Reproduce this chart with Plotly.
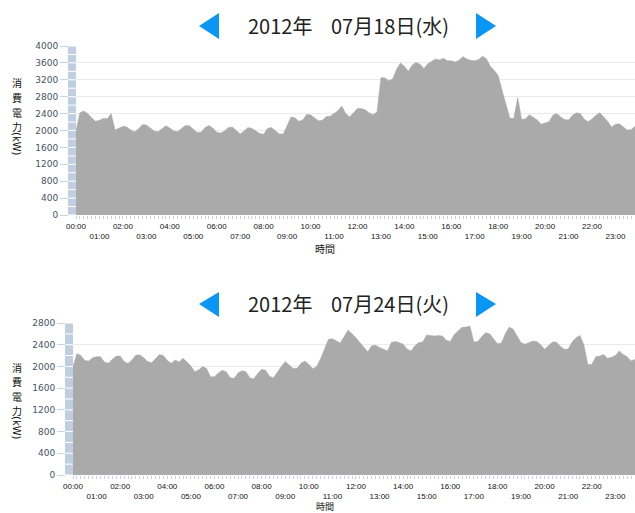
import pandas as pd
import plotly.graph_objects as go

W, H = 635, 513

# ---------------- data ----------------
times_0718 = pd.date_range("2012-07-18 00:00", periods=144, freq="10min")
times_0724 = pd.date_range("2012-07-24 00:00", periods=144, freq="10min")

kw_0718 = [
    2000, 2420, 2460, 2400, 2300, 2220,
    2240, 2290, 2280, 2400, 2010, 2050,
    2100, 2080, 2010, 1970, 2040, 2140,
    2130, 2060, 1990, 1970, 2050, 2115,
    2060, 1990, 1975, 2050, 2120, 2110,
    2020, 1950, 1960, 2070, 2120, 2060,
    1960, 1940, 1990, 2070, 2080, 1990,
    1920, 1990, 2070, 2050, 1980, 1930,
    1910, 2050, 2070, 2000, 1920, 1915,
    2100, 2320, 2300, 2220, 2250, 2380,
    2370, 2290, 2230, 2240, 2330, 2340,
    2400, 2470, 2580, 2400, 2320, 2430,
    2520, 2520, 2490, 2420, 2370, 2440,
    3250, 3250, 3180, 3220, 3450, 3600,
    3520, 3400, 3550, 3610, 3570, 3470,
    3580, 3640, 3690, 3670, 3710, 3650,
    3650, 3620, 3660, 3750, 3690, 3660,
    3650, 3680, 3760, 3700, 3520, 3420,
    3300, 2950, 2600, 2290, 2290, 2780,
    2260, 2280, 2370, 2300, 2250, 2150,
    2180, 2210, 2360, 2400, 2320, 2260,
    2250, 2360, 2420, 2400, 2270, 2210,
    2270, 2360, 2420, 2320, 2220, 2080,
    2150, 2160, 2080, 2010, 2020, 2100,
]

kw_0724 = [
    2000, 2240, 2200, 2110, 2100, 2160,
    2180, 2180, 2080, 2060, 2130, 2190,
    2190, 2090, 2055, 2120, 2210, 2210,
    2160, 2090, 2070, 2150, 2220, 2200,
    2110, 2060, 2120, 2080, 2150, 2080,
    2010, 1900, 1940, 2000, 1960, 1810,
    1810, 1880, 1930, 1900, 1790, 1780,
    1880, 1920, 1900, 1790, 1770, 1870,
    1950, 1930, 1820, 1790, 1900, 2000,
    2090, 2020, 1960, 1960, 2060, 2100,
    2040, 1955, 2000, 2140, 2330, 2500,
    2510, 2470, 2430, 2550, 2670, 2600,
    2530, 2440, 2350, 2270, 2380, 2390,
    2350, 2310, 2285, 2440, 2460, 2440,
    2410, 2320, 2285, 2380, 2440, 2450,
    2580, 2570, 2560, 2570, 2560, 2480,
    2460, 2590, 2660, 2720, 2725, 2745,
    2450, 2460, 2550, 2620, 2600, 2500,
    2420, 2430, 2600, 2725, 2685, 2560,
    2440, 2410, 2440, 2470, 2460, 2400,
    2315, 2380, 2450, 2450, 2370, 2315,
    2320, 2450, 2530, 2570, 2400, 2035,
    2035, 2180, 2190, 2220, 2150, 2170,
    2200, 2285, 2220, 2180, 2100, 2130,
]

hour_labels = ["00:00", "01:00", "02:00", "03:00", "04:00", "05:00",
               "06:00", "07:00", "08:00", "09:00", "10:00", "11:00",
               "12:00", "13:00", "14:00", "15:00", "16:00", "17:00",
               "18:00", "19:00", "20:00", "21:00", "22:00", "23:00"]

y_ticks_0718 = [0, 400, 800, 1200, 1600, 2000, 2400, 2800, 3200, 3600, 4000]
y_ticks_0724 = [0, 400, 800, 1200, 1600, 2000, 2400, 2800]
strip_ticks_0718 = list(range(0, 4001, 200))
strip_ticks_0724 = list(range(0, 2801, 200))

title_year = "2012年"
title_0718 = "07月18日(水)"
title_0724 = "07月24日(火)"
y_title_chars = ["消", "費", "電", "力"]
y_title_unit = "(kW)"
x_title = "時間"

# ---------------- helpers (pixel -> paper) ----------------
def px(x):
    return x / W


def py(y):
    return 1 - y / H


AREA = "#aaaaaa"
STRIP = "#bfcfe0"
BLUE = "#0a96f5"
GRID = "#ebebeb"
TICKC = "#c8d4e0"
YLAB = dict(family="DejaVu Sans", size=9, color="#445566")
XLAB = dict(family="Liberation Sans", size=8, color="#111111")
CJK = "Noto Sans CJK JP"

tick_text = [lab if i % 2 == 0 else "<br>" + lab for i, lab in enumerate(hour_labels)]

fig = go.Figure()
fig.add_trace(go.Scatter(
    x=times_0718, y=kw_0718, mode="lines", fill="tozeroy",
    fillcolor=AREA, line=dict(color=AREA, width=0.5),
    xaxis="x", yaxis="y", showlegend=False))
fig.add_trace(go.Scatter(
    x=times_0724, y=kw_0724, mode="lines", fill="tozeroy",
    fillcolor=AREA, line=dict(color=AREA, width=0.5),
    xaxis="x2", yaxis="y2", showlegend=False))

panels = [
    dict(times=times_0718, top=46, bottom=215, left=76, yticks=y_ticks_0718,
         strip=strip_ticks_0718, title=title_0718, ty=25.5, xty=248, xts=10,
         ychar_y0=83, unit_y=144, ax="", arrow_y=(13, 26, 39)),
    dict(times=times_0724, top=323, bottom=475, left=73, yticks=y_ticks_0724,
         strip=strip_ticks_0724, title=title_0724, ty=303.5, xty=506.4, xts=9,
         ychar_y0=367, unit_y=428, ax="2", arrow_y=(292, 304, 317)),
]

shapes = []
annotations = []
layout_axes = {}

for p in panels:
    ax = p["ax"]
    xname = "xaxis" + ax
    yname = "yaxis" + ax
    yref = "y" + ax
    layout_axes[xname] = dict(
        domain=[px(p["left"]), 1], anchor=yref, type="date",
        range=[p["times"][0], p["times"][-1]],
        tickvals=list(p["times"][::6]), ticktext=tick_text,
        ticks="outside", ticklen=3, tickcolor=TICKC, tickwidth=1,
        minor=dict(ticks="outside", ticklen=3, dtick=600000, tickcolor=TICKC, showgrid=False),
        showgrid=False, zeroline=False, showline=False,
        tickfont=XLAB, tickangle=0, fixedrange=True,
    )
    layout_axes[yname] = dict(
        domain=[py(p["bottom"]), py(p["top"])], anchor="free",
        position=px(p["left"] - 8), range=[0, p["yticks"][-1]],
        tickvals=p["yticks"], ticks="outside", ticklen=8, tickcolor=TICKC,
        showgrid=True, gridcolor=GRID, gridwidth=1, zeroline=False,
        showline=False, tickfont=YLAB, fixedrange=True,
    )
    # light blue strip along the y axis with white minor marks
    shapes.append(dict(type="rect", xref="paper", yref=yref + " domain",
                       x0=px(p["left"] - 8), x1=px(p["left"]), y0=0, y1=1,
                       fillcolor=STRIP, line=dict(width=0), layer="below"))
    for v in p["strip"]:
        shapes.append(dict(type="line", xref="paper", yref=yref,
                           x0=px(p["left"] - 8), x1=px(p["left"]), y0=v, y1=v,
                           line=dict(color="white", width=1), layer="below"))
    # titles
    annotations.append(dict(text=title_year, xref="paper", yref="paper",
                            x=px(246), y=py(p["ty"]), xanchor="left", yanchor="middle",
                            showarrow=False, font=dict(family=CJK, size=20, color="#222222")))
    annotations.append(dict(text=p["title"], xref="paper", yref="paper",
                            x=px(329), y=py(p["ty"]), xanchor="left", yanchor="middle",
                            showarrow=False, font=dict(family=CJK, size=20, color="#222222")))
    # y title (upright CJK characters stacked, unit rotated)
    for i, ch in enumerate(y_title_chars):
        annotations.append(dict(text=ch, xref="paper", yref="paper", x=px(17),
                                y=py(p["ychar_y0"] + 14.5 * i), xanchor="center",
                                yanchor="middle", showarrow=False, borderpad=0,
                                font=dict(family=CJK, size=10, color="#111111")))
    annotations.append(dict(text=y_title_unit, xref="paper", yref="paper", x=px(17),
                            y=py(p["unit_y"]), xanchor="center", yanchor="middle",
                            textangle=90, showarrow=False,
                            font=dict(family="DejaVu Sans", size=10, color="#111111")))
    # x title
    annotations.append(dict(text=x_title, xref="paper", yref="paper", x=px(325),
                            y=py(p["xty"]), xanchor="center", yanchor="middle",
                            showarrow=False, borderpad=0,
                            font=dict(family=CJK, size=p["xts"], color="#111111")))

# white title box of the lower chart covering the top gridline
shapes.append(dict(type="rect", xref="paper", yref="paper",
                   x0=px(192), x1=px(505), y0=py(324.5), y1=py(282),
                   fillcolor="white", line=dict(width=0), layer="above"))
# navigation arrows
for p in panels:
    a0, am, a1 = p["arrow_y"]
    shapes.append(dict(type="path", xref="paper", yref="paper",
                       path=f"M {px(219)},{py(a0)} L {px(199)},{py(am)} L {px(219)},{py(a1)} Z",
                       fillcolor=BLUE, line=dict(width=0), layer="above"))
    shapes.append(dict(type="path", xref="paper", yref="paper",
                       path=f"M {px(476)},{py(a0)} L {px(496)},{py(am)} L {px(476)},{py(a1)} Z",
                       fillcolor=BLUE, line=dict(width=0), layer="above"))

fig.update_layout(
    width=W, height=H, template="none",
    margin=dict(l=0, r=0, t=0, b=0, pad=0),
    paper_bgcolor="white", plot_bgcolor="white",
    showlegend=False, shapes=shapes, annotations=annotations,
    font=dict(family="DejaVu Sans"),
    **layout_axes,
)

fig.write_html(
    "out.html",
    config={"displayModeBar": False},
    post_script="document.body.style.margin='0';document.body.style.overflow='hidden';",
)
